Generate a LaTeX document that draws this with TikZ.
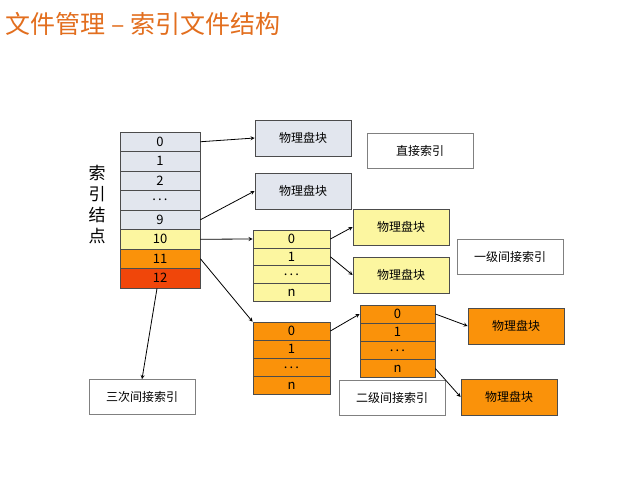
\documentclass[tikz,border=0pt]{standalone}
\usepackage{fontspec}
\setmainfont{Noto Sans CJK SC}
\usetikzlibrary{arrows,positioning}
\definecolor{cgrey}{RGB}{226,230,238}
\definecolor{cyel}{RGB}{252,246,160}
\definecolor{corg}{RGB}{250,146,10}
\definecolor{cred}{RGB}{240,70,10}
\definecolor{ctitle}{RGB}{226,110,30}
\tikzset{
  cell/.style={draw=black!70,minimum width=80pt,minimum height=19.5pt,inner sep=0pt,font=\fontsize{13}{13}\selectfont},
  scell/.style={draw=black!70,minimum width=77pt,minimum height=17.8pt,inner sep=0pt,font=\fontsize{13}{13}\selectfont},
  blk/.style={draw=black!70,minimum width=96pt,minimum height=36pt,inner sep=0pt,font=\fontsize{12}{12}\selectfont},
  lbl/.style={draw=black!50,fill=white,minimum width=106pt,minimum height=35pt,inner sep=0pt,font=\fontsize{12}{12}\selectfont}
}
\begin{document}
\begin{tikzpicture}[x=1pt,y=-1pt,>=stealth,thick]
  \useasboundingbox (0,0) rectangle (636,476);
  \node[anchor=west,text=ctitle,font=\fontsize{25}{25}\selectfont] (title) at (2,24) {文件管理 – 索引文件结构};
% Index node
  \node[font=\fontsize{17}{19}\selectfont,align=center] (inode) at (97,205) {索\\[2pt]引\\[2pt]结\\[2pt]点};
  \foreach \t/\c [count=\i from 0] in {0/cgrey,1/cgrey,2/cgrey,.\,.\,./cgrey,9/cgrey,10/cyel,11/corg,12/cred}
    \node[cell,fill=\c] (r\i) at (160,141.75+19.5*\i) {\t};
% Direct blocks
  \node[blk,fill=cgrey] (pb1) at (303,138) {物理盘块};
  \node[blk,fill=cgrey] (pb2) at (303,191) {物理盘块};
  \node[lbl] (direct) at (420,151) {直接索引};
% Single indirect
  \foreach \t [count=\i from 0] in {0,1,.\,.\,.,n}
    \node[scell,fill=cyel] (y\i) at (291.5,239+17.8*\i) {\t};
  \node[blk,fill=cyel] (pb3) at (401,227) {物理盘块};
  \node[blk,fill=cyel] (pb4) at (401,275) {物理盘块};
  \node[lbl] (single) at (510,257) {一级间接索引};
% Double indirect
  \foreach \t [count=\i from 0] in {0,1,.\,.\,.,n}
    \node[scell,fill=corg] (a\i) at (291.5,331+18.2*\i) {\t};
  \foreach \t [count=\i from 0] in {0,1,.\,.\,.,n}
    \node[scell,fill=corg,minimum width=75pt] (b\i) at (397.5,314+18.2*\i) {\t};
  \node[blk,fill=corg] (pb5) at (516,326) {物理盘块};
  \node[blk,fill=corg] (pb6) at (509,397) {物理盘块};
  \node[lbl] (double) at (392,398) {二级间接索引};
% Triple indirect
  \node[lbl] (triple) at (142,397) {三次间接索引};
% Arrows
  \draw[->] (r0.east) -- (pb1.west);
  \draw[->] (r4.east) -- (pb2.west);
  \draw[->] (r5.east) -- (y0.west);
  \draw[->] (y0.east) -- (pb3.west);
  \draw[->] (y1.east) -- (pb4.west);
  \draw[->] (r6.east) -- (a0.north west);
  \draw[->] (a0.east) -- (b0.west);
  \draw[->] (b0.east) -- (pb5.west);
  \draw[->] (b3.east) -- (pb6.west);
  \draw[->] (r7.south) ++(-3,0) coordinate (t) -- (triple.north);
\end{tikzpicture}
\end{document}
